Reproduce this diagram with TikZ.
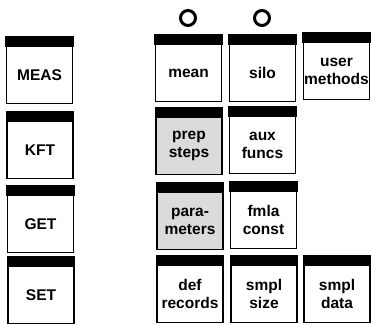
\documentclass[tikz,border=0pt]{standalone}
\usepackage{fontspec}
\setmainfont{Liberation Sans}
\usetikzlibrary{positioning}

\begin{document}
\begin{tikzpicture}[x=1pt,y=-1pt,
    every node/.append style={font=\fontsize{15.5}{18}\selectfont\bfseries,
                    align=center},
    tile/.style={draw, line width=1.1pt, minimum width=66pt,
                 minimum height=57pt, inner sep=0pt},
    shaded/.style={tile, fill=gray!28},
    ring/.style={draw, circle, line width=3pt, minimum size=15pt,
                 inner sep=0pt}]
    \useasboundingbox (0,0) rectangle (371,324);
    % left column
    \node[tile] (meas) at (39.5,75) {MEAS};
    \node[tile] (kft)  at (40,150) {KFT};
    \node[tile] (get)  at (40.5,224) {GET};
    \node[tile] (set)  at (41,295) {SET};
    % right block
    \node[tile]   (mean)   at (188.5,73) {mean};
    \node[tile]   (silo)   at (262.5,73) {silo};
    \node[tile]   (user)   at (336.5,71) {user\\methods};
    \node[shaded] (prep)   at (189,146) {prep\\steps};
    \node[tile]   (aux)    at (262.5,145) {aux\\funcs};
    \node[shaded] (para)   at (190,221) {para-\\meters};
    \node[tile]   (fmla)   at (263.5,220) {fmla\\const};
    \node[tile]   (def)    at (190,294) {def\\records};
    \node[tile]   (size)   at (264,294) {smpl\\size};
    \node[tile]   (data)   at (337,294) {smpl\\data};
    % bars
    \foreach \n in {meas,kft,get,set,mean,silo,user,prep,aux,para,fmla,def,size,data}
      \filldraw[line width=1.1pt] (\n.north west) rectangle ([yshift=9pt]\n.north east);
    % rings
    \node[ring] (meanring) at (188,18) {};
    \node[ring] (siloring) at (262,18) {};
\end{tikzpicture}
\end{document}
